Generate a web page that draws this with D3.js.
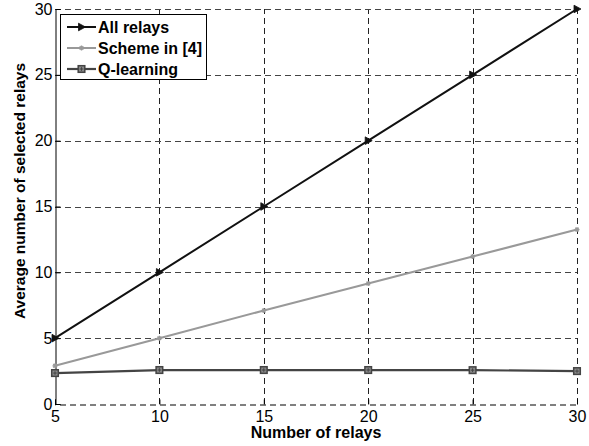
<!DOCTYPE html>
<html>
<head>
<meta charset="utf-8">
<script src="https://cdn.jsdelivr.net/npm/d3@7"></script>
<style>
  html, body { margin: 0; padding: 0; background: #fff; }
  svg { display: block; }
  text { font-family: "Liberation Sans", Arial, Helvetica, sans-serif; }
</style>
</head>
<body>
<svg id="chart" width="589" height="446"></svg>
<script>
// Number of relays on the x axis
const relays = [5, 10, 15, 20, 25, 30];
// Average number of selected relays for each scheme
const allRelays = [5, 10, 15, 20, 25, 30];
const schemeIn4 = [2.9, 5.0, 7.1, 9.15, 11.2, 13.25];
const qLearning = [2.35, 2.58, 2.58, 2.58, 2.57, 2.5];

const xTicks = [5, 10, 15, 20, 25, 30];
const yTicks = [0, 5, 10, 15, 20, 25, 30];

const seriesNames = ["All relays", "Scheme in [4]", "Q-learning"];

const svg = d3.select("#chart");
const margin = { left: 55, right: 12, top: 9, bottom: 42 };
const W = 589, H = 446;
const plotW = W - margin.left - margin.right;
const plotH = H - margin.top - margin.bottom;

const x = d3.scaleLinear().domain([5, 30]).range([margin.left, margin.left + plotW]);
const y = d3.scaleLinear().domain([0, 30]).range([margin.top + plotH, margin.top]);

const g = svg.append("g");

// Dashed grid
g.append("g").selectAll("line").data(xTicks.slice(1, -1)).join("line")
  .attr("x1", d => Math.round(x(d)) + 0.5).attr("x2", d => Math.round(x(d)) + 0.5)
  .attr("y1", y(0)).attr("y2", y(30))
  .attr("stroke", "#222").attr("stroke-width", 1).attr("stroke-dasharray", "6,4");
g.append("g").selectAll("line").data(yTicks.slice(1, -1)).join("line")
  .attr("x1", x(5)).attr("x2", x(30))
  .attr("y1", d => Math.round(y(d)) + 0.5).attr("y2", d => Math.round(y(d)) + 0.5)
  .attr("stroke", "#444").attr("stroke-width", 1).attr("stroke-dasharray", "6,4");
// Dashed top and right edges
g.append("line").attr("x1", x(5)).attr("x2", x(30))
  .attr("y1", Math.round(y(30)) + 0.5).attr("y2", Math.round(y(30)) + 0.5)
  .attr("stroke", "#444").attr("stroke-dasharray", "6,4");
g.append("line").attr("x1", Math.round(x(30)) + 0.5).attr("x2", Math.round(x(30)) + 0.5)
  .attr("y1", y(0)).attr("y2", y(30))
  .attr("stroke", "#222").attr("stroke-dasharray", "6,4");

// Axes
const xAxis = d3.axisBottom(x).tickValues(xTicks).tickSize(-5).tickPadding(6);
const yAxis = d3.axisLeft(y).tickValues(yTicks).tickSize(-5).tickPadding(3);

const gx = g.append("g").attr("transform", `translate(0,${Math.round(y(0)) + 0.5})`).call(xAxis);
const gy = g.append("g").attr("transform", `translate(${Math.round(x(5)) + 0.5},0)`).call(yAxis);
[gx, gy].forEach(a => {
  a.select(".domain").attr("stroke", "#000");
  a.selectAll(".tick line").attr("stroke", "#000");
  a.selectAll("text").attr("fill", "#000").style("font-size", "16px")
    .style("font-family", "'Liberation Sans', Arial, sans-serif");
});
gx.select(".domain").attr("stroke-dasharray", "6,4");

// Axis titles
svg.append("text").attr("x", x(17.5)).attr("y", 438).attr("text-anchor", "middle")
  .style("font-size", "16px").style("font-weight", "bold").text("Number of relays");
svg.append("text").attr("transform", `translate(25,191) rotate(-90)`)
  .attr("text-anchor", "middle").style("font-size", "15.5px").style("font-weight", "bold")
  .text("Average number of selected relays");

// Series
const series = [
  { name: seriesNames[0], values: allRelays, color: "#111", width: 2, marker: "tri" },
  { name: seriesNames[1], values: schemeIn4, color: "#999", width: 2, marker: "star" },
  { name: seriesNames[2], values: qLearning, color: "#444", width: 2.2, marker: "sq" }
];

const line = d3.line().x((d, i) => x(relays[i])).y(d => y(d));

function drawMarker(sel, type, color, cx, cy) {
  if (type === "tri") {
    sel.append("path").attr("d", `M${cx - 3},${cy - 3.8}L${cx + 4},${cy}L${cx - 3},${cy + 3.8}Z`)
      .attr("fill", color).attr("stroke", color).attr("stroke-width", 0.8);
  } else if (type === "star") {
    sel.append("path")
      .attr("d", `M${cx - 2.5},${cy}L${cx + 2.5},${cy}M${cx},${cy - 2.5}L${cx},${cy + 2.5}M${cx - 1.8},${cy - 1.8}L${cx + 1.8},${cy + 1.8}M${cx - 1.8},${cy + 1.8}L${cx + 1.8},${cy - 1.8}`)
      .attr("stroke", color).attr("stroke-width", 1.2).attr("fill", "none");
  } else {
    sel.append("rect").attr("x", cx - 3.3).attr("y", cy - 3.3).attr("width", 6.6).attr("height", 6.6)
      .attr("fill", "#888").attr("stroke", color).attr("stroke-width", 1.5);
    sel.append("path").attr("d", `M${cx - 1.8},${cy}L${cx + 1.8},${cy}M${cx},${cy - 1.8}L${cx},${cy + 1.8}`)
      .attr("stroke", color).attr("stroke-width", 1);
  }
}

series.forEach(s => {
  const sg = g.append("g");
  sg.append("path").datum(s.values).attr("d", line)
    .attr("fill", "none").attr("stroke", s.color).attr("stroke-width", s.width);
  s.values.forEach((v, i) => drawMarker(sg, s.marker, s.color, x(relays[i]), y(v)));
});

// Legend
const lg = svg.append("g");
lg.append("rect").attr("x", 60.5).attr("y", 14.5).attr("width", 146).attr("height", 65)
  .attr("fill", "#fff").attr("stroke", "#000").attr("stroke-width", 1);
series.forEach((s, i) => {
  const ly = 27 + i * 21;
  lg.append("line").attr("x1", 67).attr("x2", 96).attr("y1", ly).attr("y2", ly)
    .attr("stroke", s.color).attr("stroke-width", s.width);
  drawMarker(lg, s.marker, s.color, 81.5, ly);
  lg.append("text").attr("x", 98).attr("y", ly + 5.5)
    .style("font-size", "16px").style("font-weight", "bold").text(s.name);
});
</script>
</body>
</html>
